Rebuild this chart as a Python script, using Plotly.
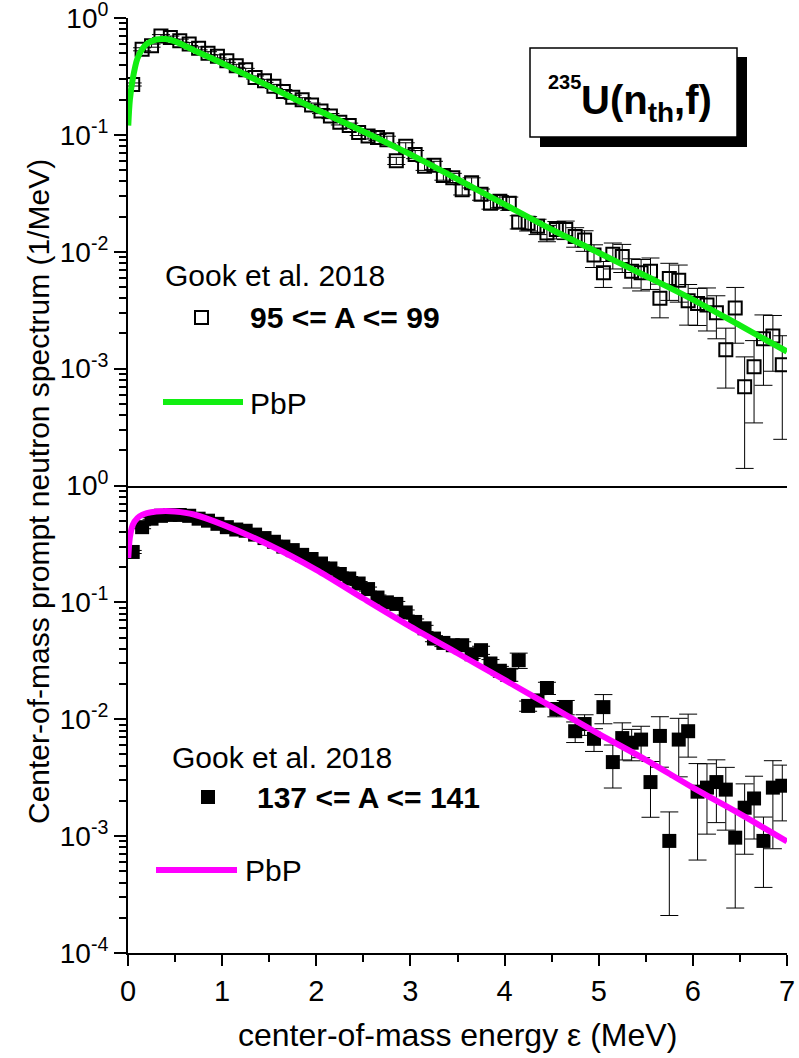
import plotly.graph_objects as go

# ---------------- data ----------------
energy = [0.05, 0.15, 0.25, 0.35, 0.45, 0.55, 0.65, 0.75, 0.85, 0.95,
          1.05, 1.15, 1.25, 1.35, 1.45, 1.55, 1.65, 1.75, 1.85, 1.95,
          2.05, 2.15, 2.25, 2.35, 2.45, 2.55, 2.65, 2.75, 2.85, 2.95,
          3.05, 3.15, 3.25, 3.35, 3.45, 3.55, 3.65, 3.75, 3.85, 3.95,
          4.05, 4.15, 4.25, 4.35, 4.45, 4.55, 4.65, 4.75, 4.85, 4.95,
          5.05, 5.15, 5.25, 5.35, 5.45, 5.55, 5.65, 5.75, 5.85, 5.95,
          6.05, 6.15, 6.25, 6.35, 6.45, 6.55, 6.65, 6.75, 6.85, 6.95]

light_y = [0.27, 0.54, 0.58, 0.70, 0.68, 0.64, 0.60, 0.55, 0.50, 0.47,
           0.43, 0.39, 0.36, 0.31, 0.29, 0.26, 0.235, 0.21, 0.20, 0.18,
           0.16, 0.145, 0.128, 0.12, 0.105, 0.098, 0.095, 0.091, 0.060, 0.080,
           0.068, 0.054, 0.055, 0.045, 0.043, 0.034, 0.039, 0.031, 0.026, 0.027,
           0.026, 0.018, 0.0175, 0.0165, 0.0145, 0.0155, 0.0155, 0.0135, 0.0126, 0.0094,
           0.0066, 0.0095, 0.0091, 0.0068, 0.0066, 0.0068, 0.0040, 0.0059, 0.0057, 0.0038,
           0.0036, 0.0035, 0.0030, 0.00145, 0.0033, 0.0007, 0.00104, 0.0018, 0.0019, 0.00108]
light_err_pct = [3, 3, 3, 3, 3, 3, 3, 3, 3, 3,
                 3, 3, 3, 3, 3, 4, 4, 4, 4, 4,
                 5, 5, 5, 5, 6, 6, 6, 7, 7, 7,
                 8, 8, 8, 9, 9, 10, 10, 11, 11, 12,
                 13, 13, 14, 15, 16, 17, 18, 19, 20, 22,
                 25, 25, 27, 28, 30, 30, 32, 35, 35, 38,
                 35, 40, 40, 53, 50, 80, 67, 60, 50, 77]

heavy_y = [0.27, 0.44, 0.52, 0.55, 0.56, 0.56, 0.55, 0.52, 0.50, 0.47,
           0.44, 0.42, 0.41, 0.38, 0.355, 0.33, 0.30, 0.28, 0.255, 0.235,
           0.215, 0.195, 0.175, 0.16, 0.145, 0.13, 0.11, 0.100, 0.097, 0.082,
           0.068, 0.060, 0.049, 0.045, 0.043, 0.043, 0.036, 0.039, 0.030, 0.026,
           0.024, 0.032, 0.013, 0.0145, 0.0185, 0.0122, 0.0127, 0.0079, 0.0091, 0.0068,
           0.0127, 0.0043, 0.0069, 0.0063, 0.0067, 0.0029, 0.0072, 0.00091, 0.0067, 0.0079,
           0.0024, 0.0026, 0.0029, 0.0025, 0.00097, 0.00175, 0.0021, 0.00091, 0.0026, 0.0027]
heavy_err_pct = [3, 3, 2, 2, 2, 2, 2, 2, 2, 2,
                 2, 2, 2, 3, 3, 3, 3, 3, 3, 3,
                 3, 3, 4, 4, 4, 4, 5, 5, 5, 5,
                 6, 6, 6, 7, 7, 7, 8, 8, 8, 9,
                 12, 15, 10, 12, 12, 14, 14, 20, 20, 22,
                 28, 40, 35, 30, 30, 50, 46, 77, 52, 40,
                 74, 60, 55, 55, 75, 60, 55, 60, 70, 50]

curve_x = [0.003, 0.02, 0.05, 0.1, 0.15, 0.2, 0.3, 0.4, 0.5, 0.7, 1.0, 1.5,
           2.0, 2.5, 3.0, 3.5, 4.0, 4.5, 5.0, 5.5, 6.0, 6.5, 7.0]
pbp_light = [0.12, 0.2, 0.3, 0.45, 0.54, 0.6, 0.655, 0.66, 0.63, 0.53, 0.41, 0.26,
             0.165, 0.107, 0.068, 0.0417, 0.0254, 0.0155, 0.0098, 0.0062, 0.0039, 0.00234, 0.0014]
pbp_heavy = [0.24, 0.36, 0.46, 0.525, 0.56, 0.58, 0.60, 0.605, 0.60, 0.565, 0.465, 0.31,
             0.19, 0.108, 0.062, 0.0367, 0.0217, 0.0128, 0.0075, 0.0045, 0.0026, 0.00155, 0.0009]

x_ticks = [0, 1, 2, 3, 4, 5, 6, 7]
x_minor = [0.5, 1.5, 2.5, 3.5, 4.5, 5.5, 6.5]
top_yticks = [1, 0.1, 0.01, 0.001]
top_ytext = ["10<sup>0</sup>", "10<sup>-1</sup>", "10<sup>-2</sup>", "10<sup>-3</sup>"]
bot_yticks = [1, 0.1, 0.01, 0.001, 0.0001]
bot_ytext = ["10<sup>0</sup>", "10<sup>-1</sup>", "10<sup>-2</sup>", "10<sup>-3</sup>", "10<sup>-4</sup>"]
y_minor = [k * 10.0 ** d for d in (-4, -3, -2, -1) for k in range(2, 10)]

GREEN = "#11ee11"
MAGENTA = "#ff00ff"
FONT = "Arial, Liberation Sans, sans-serif"

W, H = 799, 1058
L, R, T, B = 128, 12, 18, 105
PW, PH = W - L - R, H - T - B


def px(xp):
    return (xp - L) / PW


def py(yp):
    return (H - B - yp) / PH


light_err = [v * p / 100 for v, p in zip(light_y, light_err_pct)]
heavy_err = [v * p / 100 for v, p in zip(heavy_y, heavy_err_pct)]

fig = go.Figure()

fig.add_trace(go.Scatter(
    x=energy, y=light_y, mode="markers", xaxis="x2", yaxis="y",
    marker=dict(symbol="square-open", size=13, color="black", line=dict(width=2, color="black")),
    error_y=dict(type="data", array=light_err, color="black", thickness=1, width=9),
    showlegend=False))
fig.add_trace(go.Scatter(
    x=curve_x, y=pbp_light, mode="lines", xaxis="x2", yaxis="y",
    line=dict(color=GREEN, width=6, shape="spline", smoothing=0.8), showlegend=False))

fig.add_trace(go.Scatter(
    x=energy, y=heavy_y, mode="markers", xaxis="x", yaxis="y2",
    marker=dict(symbol="square", size=14, color="black", line=dict(width=0)),
    error_y=dict(type="data", array=heavy_err, color="black", thickness=1, width=9),
    showlegend=False))
fig.add_trace(go.Scatter(
    x=curve_x, y=pbp_heavy, mode="lines", xaxis="x", yaxis="y2",
    line=dict(color=MAGENTA, width=6, shape="spline", smoothing=0.8), showlegend=False))

ax_common = dict(showline=True, linewidth=2, linecolor="black", showgrid=False, zeroline=False,
                 tickcolor="black", tickwidth=2, automargin=False, ticklabeloverflow="allow")
x_common = dict(range=[0, 7], tickmode="array", tickvals=x_ticks,
                minor=dict(tickmode="array", tickvals=x_minor, ticklen=7, tickwidth=2, tickcolor="black"),
                **ax_common)

fig.update_layout(
    template="none",
    width=W, height=H, margin=dict(l=L, r=R, t=T, b=B, autoexpand=False),
    paper_bgcolor="white", plot_bgcolor="white",
    font=dict(family=FONT, size=28, color="black"),
    xaxis=dict(anchor="y2", domain=[0, 1], ticks="outside", ticklen=11,
               tickfont=dict(size=29), **x_common),
    xaxis2=dict(anchor="y", domain=[0, 1], matches="x", ticks="", showticklabels=False,
                range=[0, 7], showline=True, linewidth=2, linecolor="black",
                showgrid=False, zeroline=False, automargin=False),
    xaxis3=dict(overlaying="x", anchor="y", side="top", ticks="inside", ticklen=12,
                showticklabels=False, **x_common),
    xaxis4=dict(overlaying="x", anchor="y2", side="top", ticks="inside", ticklen=12,
                showticklabels=False, **x_common),
)
fig.layout.xaxis3.minor.ticks = "inside"
fig.layout.xaxis4.minor.ticks = "inside"
fig.layout.xaxis.minor.ticks = "outside"


def yaxis_def(domain, tv, tt, side, ticks, labels, overlay=None, anchor="x"):
    d = dict(type="log", range=[-4, 0], domain=domain, anchor=anchor, side=side,
             tickmode="array", tickvals=tv, ticktext=tt, ticks=ticks, ticklen=12,
             showticklabels=labels, tickfont=dict(size=28),
             minor=dict(tickmode="array", tickvals=y_minor, ticks=ticks, ticklen=7,
                        tickwidth=2, tickcolor="black"),
             **ax_common)
    if overlay:
        d["overlaying"] = overlay
    return d


fig.update_layout(
    yaxis=yaxis_def([0.5, 1], top_yticks, top_ytext, "left", "outside", True),
    yaxis2=yaxis_def([0, 0.5], bot_yticks, bot_ytext, "left", "outside", True),
    yaxis3=yaxis_def([0.5, 1], top_yticks, top_ytext, "right", "inside", False, overlay="y"),
    yaxis4=yaxis_def([0, 0.5], bot_yticks, bot_ytext, "right", "inside", False, overlay="y2"),
)

shapes = [
    # title box shadow + box
    dict(type="rect", xref="paper", yref="paper", x0=px(540), x1=px(747), y0=py(147), y1=py(57),
         fillcolor="black", line=dict(width=0), layer="above"),
    dict(type="rect", xref="paper", yref="paper", x0=px(530), x1=px(737), y0=py(137), y1=py(48),
         fillcolor="white", line=dict(color="black", width=1.5), layer="above"),
    # legend symbols top
    dict(type="rect", xref="paper", yref="paper", x0=px(195), x1=px(208), y0=py(324), y1=py(311),
         fillcolor="white", line=dict(color="black", width=2), layer="above"),
    dict(type="line", xref="paper", yref="paper", x0=px(163), x1=px(243), y0=py(402), y1=py(402),
         line=dict(color=GREEN, width=6), layer="above"),
    # legend symbols bottom
    dict(type="rect", xref="paper", yref="paper", x0=px(201), x1=px(215), y0=py(804), y1=py(790),
         fillcolor="black", line=dict(width=0), layer="above"),
    dict(type="line", xref="paper", yref="paper", x0=px(156), x1=px(237), y0=py(870), y1=py(870),
         line=dict(color=MAGENTA, width=6), layer="above"),
]

ann = [
    dict(text="Center-of-mass prompt neutron spectrum (1/MeV)", x=px(38), y=py(492),
         textangle=-90, font=dict(size=30)),
    dict(text="center-of-mass energy \u03b5 (MeV)", x=px(457.5), y=py(1035), font=dict(size=32)),
    dict(text="Gook et al. 2018", x=px(163), y=py(276), xanchor="left", font=dict(size=30)),
    dict(text="<b>95 &lt;= A &lt;= 99</b>", x=px(248), y=py(317), xanchor="left", font=dict(size=30)),
    dict(text="PbP", x=px(248), y=py(403), xanchor="left", font=dict(size=30)),
    dict(text="Gook et al. 2018", x=px(170), y=py(757), xanchor="left", font=dict(size=30)),
    dict(text="<b>137 &lt;= A &lt;= 141</b>", x=px(255), y=py(797), xanchor="left", font=dict(size=30)),
    dict(text="PbP", x=px(243), y=py(870), xanchor="left", font=dict(size=30)),
    dict(text="<b>235</b>", x=px(564), y=py(82), font=dict(size=20)),
    dict(text="<b>U(n<sub>th</sub>,f)</b>", x=px(579), y=py(103), xanchor="left", font=dict(size=40)),
]
for a in ann:
    a.setdefault("xref", "paper")
    a.setdefault("yref", "paper")
    a.setdefault("showarrow", False)
    a.setdefault("yanchor", "middle")
    a.setdefault("xanchor", "center")

fig.update_layout(shapes=shapes, annotations=ann)

fig.write_html("out.html", config={"displayModeBar": False},
               post_script="document.body.style.margin='0';document.body.style.overflow='hidden';")
